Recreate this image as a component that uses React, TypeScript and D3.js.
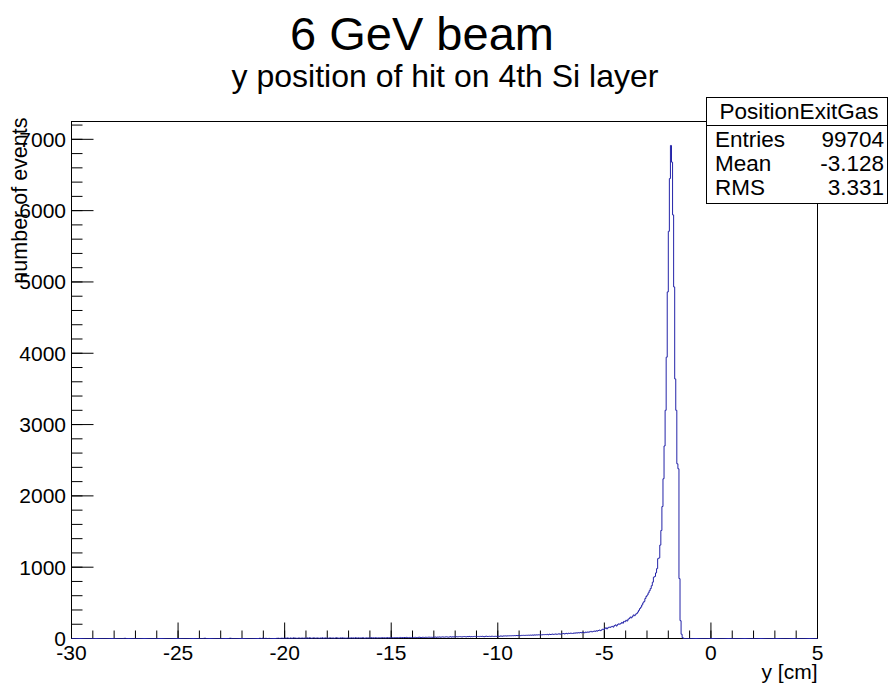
import React from 'react';
import * as d3 from 'd3';

// titles and labels
const title = '6 GeV beam';
const subtitle = 'y position of hit on 4th Si layer';
const xTitle = 'y [cm]';
const yTitle = 'number of events';
const statsName = 'PositionExitGas';
const statsLabels = ['Entries', 'Mean', 'RMS'];
const statsValues = ['99704', '-3.128', '3.331'];

// axis setup
const xDomain = [-30, 5];
const yDomain = [0, 7250];
const binWidth = 0.05;
const xMajorTicks = [-30, -25, -20, -15, -10, -5, 0, 5];
const xMinorTicks = d3.range(-30, 5.01, 1);
const yMajorTicks = [0, 1000, 2000, 3000, 4000, 5000, 6000, 7000];
const yMinorTicks = d3.range(0, 7201, 200);

// bin contents, 0.05 cm bins, one row per cm
const countsFar = [ // -30 .. -20
  0, 0, 0, 0, 0, 0, 0, 0, 0, 0, 0, 0, 0, 0, 0, 0, 0, 0, 0, 0,
  0, 0, 0, 0, 0, 0, 0, 0, 0, 0, 0, 0, 0, 0, 0, 0, 0, 0, 0, 0,
  0, 0, 0, 0, 0, 0, 0, 0, 0, 2, 3, 0, 0, 0, 0, 0, 0, 0, 0, 0,
  0, 0, 0, 0, 0, 0, 0, 0, 0, 0, 0, 0, 0, 0, 0, 0, 0, 0, 0, 0,
  0, 0, 0, 0, 0, 0, 0, 0, 0, 0, 0, 0, 0, 0, 0, 0, 0, 0, 0, 0,
  0, 0, 0, 0, 0, 0, 0, 0, 0, 0, 0, 0, 0, 0, 0, 0, 0, 0, 0, 0,
  0, 0, 0, 0, 3, 4, 0, 0, 0, 0, 0, 0, 0, 0, 0, 0, 0, 0, 0, 0,
  0, 0, 0, 0, 0, 0, 0, 0, 3, 4, 0, 0, 0, 0, 0, 0, 0, 0, 0, 0,
  0, 0, 0, 0, 0, 0, 0, 0, 0, 0, 0, 0, 0, 0, 0, 0, 3, 2, 0, 5,
  2, 0, 4, 0, 0, 2, 0, 0, 0, 0, 0, 0, 2, 3, 4, 0, 3, 5, 2, 4,
];
const countsMid = [ // -20 .. -10
  6, 3, 8, 5, 2, 7, 4, 3, 9, 5, 6, 2, 4, 8, 3, 5, 7, 4, 6, 3,
  5, 8, 4, 10, 6, 3, 7, 9, 5, 4, 8, 6, 3, 7, 5, 9, 4, 6, 8, 5,
  6, 4, 9, 7, 5, 8, 3, 6, 10, 7, 5, 4, 8, 6, 9, 5, 7, 4, 6, 8,
  7, 5, 9, 6, 8, 4, 10, 7, 6, 9, 5, 8, 7, 11, 6, 4, 9, 7, 8, 6,
  8, 10, 7, 9, 6, 11, 8, 7, 10, 9, 6, 12, 8, 10, 7, 9, 11, 8, 10, 9,
  10, 12, 9, 13, 11, 14, 10, 12, 15, 11, 13, 10, 14, 12, 16, 13, 11, 15, 14, 12,
  15, 13, 17, 14, 12, 16, 18, 15, 13, 17, 16, 14, 19, 15, 17, 20, 16, 18, 15, 19,
  18, 21, 17, 20, 19, 22, 18, 21, 23, 19, 20, 24, 22, 19, 21, 25, 20, 23, 22, 24,
  23, 26, 22, 25, 27, 24, 21, 26, 28, 25, 23, 27, 26, 29, 24, 27, 25, 28, 30, 26,
  27, 29, 26, 30, 28, 31, 27, 25, 30, 32, 28, 29, 31, 27, 33, 30, 28, 32, 29, 31,
];
const countsNear = [ // -10 .. -5
  33, 30, 35, 34, 32, 36, 35, 37, 34, 38, 36, 39, 37, 40, 38, 41, 39, 42, 40, 43,
  42, 40, 44, 43, 45, 42, 46, 44, 47, 45, 48, 46, 49, 47, 50, 48, 51, 49, 52, 50,
  52, 50, 55, 53, 56, 54, 58, 52, 60, 56, 58, 62, 57, 60, 64, 58, 62, 66, 60, 64,
  66, 70, 64, 68, 72, 66, 74, 70, 76, 72, 70, 78, 74, 80, 76, 82, 78, 84, 80, 86,
  84, 80, 90, 86, 92, 88, 95, 100, 92, 98, 105, 100, 108, 104, 112, 118, 110, 120, 130, 125,
];
const countsPeak = [ // -5 .. -1
  140, 150, 135, 150, 160, 155, 165, 170, 160, 180, 190, 175, 195, 205, 200, 210, 225, 215, 240, 235,
  255, 245, 270, 280, 300, 290, 310, 330, 320, 340, 350, 370, 395, 420, 440, 470, 500, 520, 560, 590,
  610, 640, 670, 700, 740, 790, 860, 870, 920, 980, 1120, 1130, 1310, 1515, 1850, 2240, 2700, 3200, 3945, 4860,
  5710, 6450, 6914, 6680, 5940, 4930, 3640, 3200, 2450, 2380, 840, 250, 60, 12, 2, 0, 0, 0, 0, 0,
];
const countsRight = [ // -1 .. 5
  0, 0, 0, 0, 0, 0, 0, 0, 0, 0, 0, 0, 0, 0, 0, 0, 0, 0, 0, 0,
  0, 0, 0, 0, 0, 0, 0, 0, 0, 0, 0, 0, 0, 0, 0, 0, 0, 0, 0, 0,
  0, 0, 0, 0, 0, 0, 0, 0, 0, 0, 0, 0, 0, 0, 0, 0, 0, 0, 0, 0,
  0, 0, 0, 0, 0, 0, 0, 0, 0, 0, 0, 0, 0, 0, 0, 0, 0, 0, 0, 0,
  0, 0, 0, 0, 0, 0, 0, 0, 0, 0, 0, 0, 0, 0, 0, 0, 0, 0, 0, 0,
  0, 0, 0, 0, 0, 0, 0, 0, 0, 0, 0, 0, 0, 0, 0, 0, 0, 0, 0, 0,
];

const FONT = '"Liberation Sans", Arial, Helvetica, sans-serif';
const HIST_COLOR = '#2323a8';

export default function App() {
  const width = 888;
  const height = 684;

  // frame edges
  const left = 71.5, right = 817.5, top = 121.5, bottom = 638.5;

  const x = d3.scaleLinear(xDomain, [left, right]);
  const y = d3.scaleLinear(yDomain, [bottom, top]);

  const counts = [...countsFar, ...countsMid, ...countsNear, ...countsPeak, ...countsRight];

  // step outline: one point per bin low edge, plus the upper edge of the last bin
  const pts: [number, number][] = counts.map((c, i) => [x(xDomain[0] + i * binWidth), y(c)]);
  pts.push([x(xDomain[1]), y(counts[counts.length - 1])]);
  const histPath = d3.line().curve(d3.curveStepAfter)(pts) || '';

  // stats box
  const box = { x0: 706.5, x1: 887.5, y0: 97.5, y1: 203.5, sep: 125.5 };
  const rowBase = [147, 171, 195];

  return (
    <svg width={width} height={height}
      style={{ position: 'absolute', left: 0, top: 0, background: '#fff' }}
      fontFamily={FONT}>
      <rect x={0} y={0} width={width} height={height} fill="#fff" />

      {/* titles */}
      <text x={422} y={50} fontSize={47} textAnchor="middle">{title}</text>
      <text x={445} y={87} fontSize={32} textAnchor="middle">{subtitle}</text>

      {/* frame */}
      <rect x={left} y={top} width={right - left} height={bottom - top}
        fill="none" stroke="#000" strokeWidth={1} />

      {/* x axis ticks */}
      {xMinorTicks.map(t => (
        <line key={'xm' + t} x1={x(t)} x2={x(t)} y1={bottom} y2={bottom - 8} stroke="#000" />
      ))}
      {xMajorTicks.map(t => (
        <g key={'xM' + t}>
          <line x1={x(t)} x2={x(t)} y1={bottom} y2={bottom - 16} stroke="#000" />
          <text x={x(t)} y={660} fontSize={21} textAnchor="middle">{t}</text>
        </g>
      ))}

      {/* y axis ticks */}
      {yMinorTicks.map(t => (
        <line key={'ym' + t} x1={left} x2={left + 11} y1={y(t)} y2={y(t)} stroke="#000" />
      ))}
      {yMajorTicks.map(t => (
        <g key={'yM' + t}>
          <line x1={left} x2={left + 22} y1={y(t)} y2={y(t)} stroke="#000" />
          <text x={66} y={y(t) + 7.5} fontSize={21} textAnchor="end">{t}</text>
        </g>
      ))}

      {/* histogram */}
      <path d={histPath} fill="none" stroke={HIST_COLOR} strokeWidth={1} />

      {/* axis titles */}
      <text x={right} y={679} fontSize={21} textAnchor="end">{xTitle}</text>
      <text transform={`translate(27,${top - 4}) rotate(-90)`} fontSize={21.5} textAnchor="end">{yTitle}</text>

      {/* stats box */}
      <rect x={box.x0} y={box.y0} width={box.x1 - box.x0} height={box.y1 - box.y0}
        fill="#fff" stroke="#000" strokeWidth={1} />
      <line x1={box.x0} x2={box.x1} y1={box.sep} y2={box.sep} stroke="#000" />
      <text x={(box.x0 + box.x1) / 2 + 2} y={119} fontSize={22.5} textAnchor="middle">{statsName}</text>
      {statsLabels.map((lab, i) => (
        <g key={lab}>
          <text x={715} y={rowBase[i]} fontSize={22.5}>{lab}</text>
          <text x={884} y={rowBase[i]} fontSize={22.5} textAnchor="end">{statsValues[i]}</text>
        </g>
      ))}
    </svg>
  );
}
